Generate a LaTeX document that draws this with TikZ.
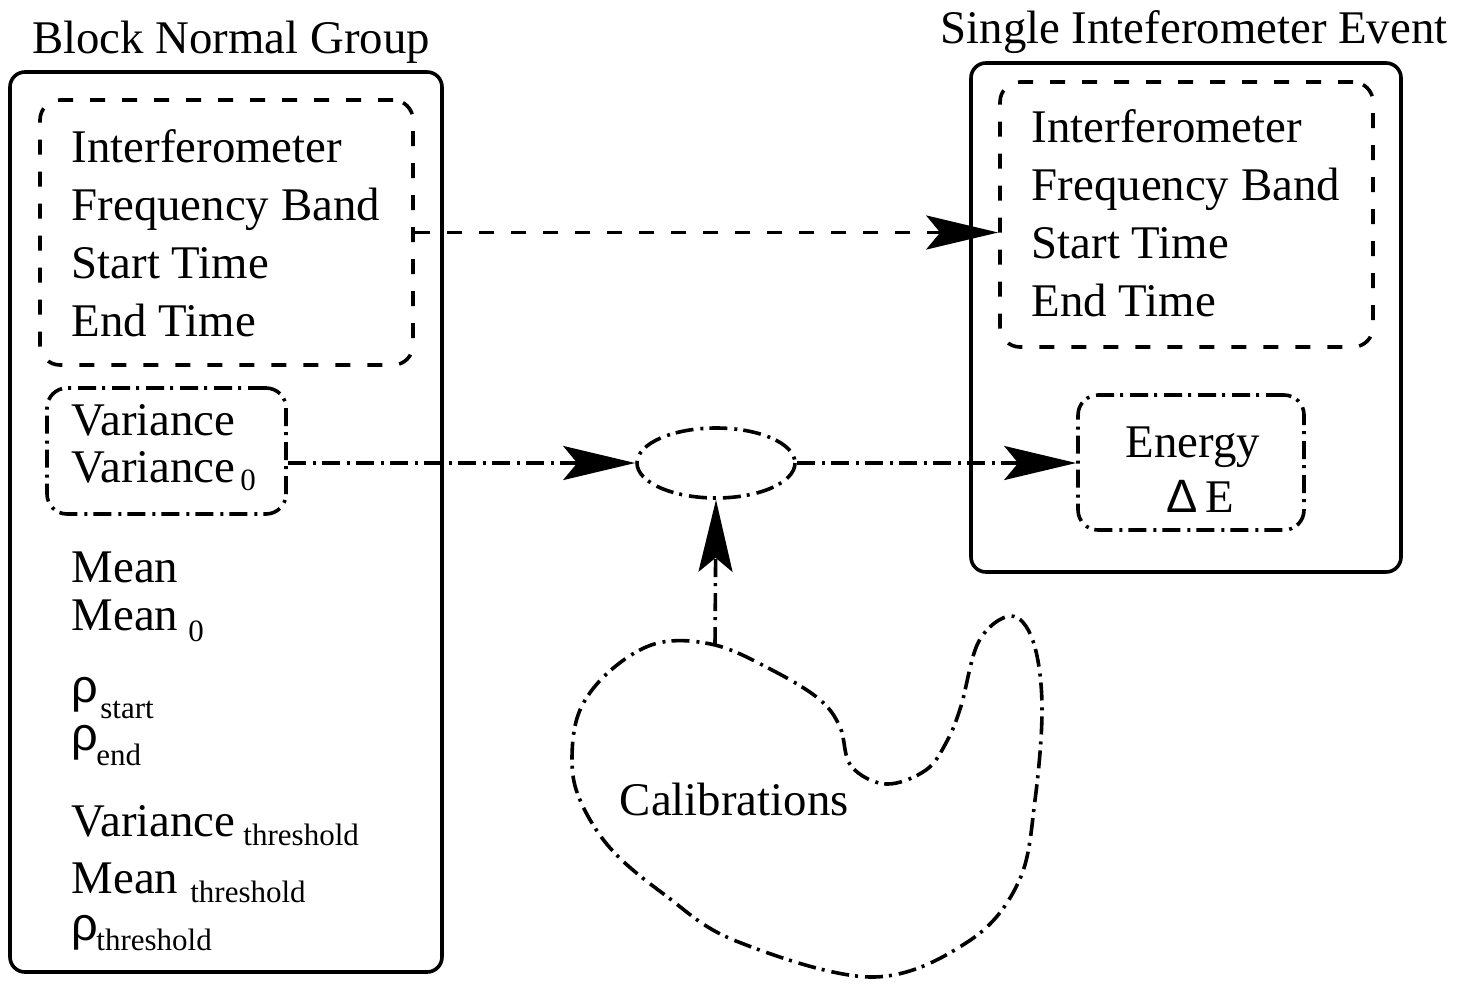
\documentclass[tikz,border=0pt]{standalone}
\usepackage{fontspec}
\setmainfont{Liberation Serif}
\newfontfamily\greekfont{Liberation Sans}
\usetikzlibrary{arrows.meta}
\newcommand{\subsize}{\fontsize{15.5}{16}\selectfont}
% \lowsub[drop]{gap}{text}
\newcommand{\lowsub}[3][4pt]{\hspace{#2}\raisebox{-#1}{\subsize #3}}
\newcommand{\rh}{{\greekfont ρ}}
\tikzset{
  txt/.style={inner sep=0pt,anchor=base west,font=\fontsize{23.4}{28}\selectfont},
  grp/.style={draw,rectangle,inner sep=0pt,rounded corners=7.5pt},
  idbox/.style={grp,rounded corners=10pt,dash pattern=on 7.5pt off 8.5pt},
  dotbox/.style={grp,rounded corners=10pt,dash pattern=on 9pt off 3.5pt on 1.5pt off 3pt},
  dashdot/.style={dash pattern=on 9pt off 3.5pt on 1.5pt off 3pt},
}
\begin{document}
\begin{tikzpicture}[x=0.5pt,y=-0.5pt,>={Stealth[length=36pt,width=17pt,inset=7pt]},line join=bevel,line width=1.8pt]
  \useasboundingbox (0,0) rectangle (1459,985);
%%
  % Node: blockgrp
  \node[grp,minimum width=216pt,minimum height=450pt] (blockgrp) at (226,522) {};
  \node[txt,anchor=base] (blocktitle) at (231,53) {Block Normal Group};
  % Node: blockid
  \node[idbox,minimum width=186.5pt,minimum height=132.5pt] (blockid) at (226.5,232.5) {};
  \node[txt] (bifo) at (70,162) {Interferometer};
  \node[txt] (bband) at (70,220) {Frequency Band};
  \node[txt] (bstart) at (70,278) {Start Time};
  \node[txt] (bend) at (70,336) {End Time};
  % Node: varbox
  \node[dotbox,minimum width=119.5pt,minimum height=63pt] (varbox) at (166.5,451) {};
  \node[txt] (var) at (70,435) {Variance};
  \node[txt] (varzero) at (70,482) {Variance\lowsub[4pt]{2.5pt}{0}};
  % Node: stats
  \node[txt] (mean) at (70,582) {Mean};
  \node[txt] (meanzero) at (70,630) {Mean\lowsub[5.5pt]{5pt}{0}};
  \node[txt] (rhostart) at (70,702) {\rh\lowsub[8pt]{1pt}{start}};
  \node[txt] (rhoend) at (70,750) {\rh\lowsub[7.5pt]{-1pt}{end}};
  \node[txt] (varthr) at (70,836) {Variance\lowsub[4.5pt]{4pt}{threshold}};
  \node[txt] (meanthr) at (70,893) {Mean\lowsub[4.5pt]{6pt}{threshold}};
  \node[txt] (rhothr) at (70,940) {\rh\lowsub[5pt]{-1pt}{threshold}};
  % Node: eventgrp
  \node[grp,minimum width=215pt,minimum height=254.5pt] (eventgrp) at (1186,317.5) {};
  \node[txt,anchor=base] (eventtitle) at (1194,43) {Single Inteferometer Event};
  % Node: eventid
  \node[idbox,minimum width=186.5pt,minimum height=132.5pt] (eventid) at (1186.5,214.5) {};
  \node[txt] (eifo) at (1030,142) {Interferometer};
  \node[txt] (eband) at (1030,200) {Frequency Band};
  \node[txt] (estart) at (1030,258) {Start Time};
  \node[txt] (eend) at (1030,316) {End Time};
  % Node: energy
  \node[dotbox,minimum width=113pt,minimum height=67.5pt] (energy) at (1191,462.5) {};
  \node[txt,anchor=base] (entxt) at (1193,457) {Energy};
  \node[txt,anchor=base] (dentxt) at (1200,512) {{\greekfont Δ}\,E};
  % Node: combine
  \draw[dashdot] (716,463) ellipse (79 and 35);
  \node[inner sep=0pt,minimum width=79pt,minimum height=35pt] (combine) at (716,463) {};
  % Node: calib
  \draw[dashdot] plot[smooth cycle,tension=0.6] coordinates {
    (715,645) (772,670) (819,699) (840,727) (851,766) (886,784) (926,770)
    (947,741) (961,706) (979,641) (1011,616) (1033,641) (1042,706)
    (1035,800) (1019,881) (969,941) (872,977) (736,941) (665,895)
    (611,849) (580,800) (572,759) (580,710) (611,670) (658,643)};
  \coordinate (calsrc) at (715,645);
  \node[txt] (calib) at (618,815) {Calibrations};
%%
  % Edge: blockid -> eventid
  \draw[->,dash pattern=on 7.5pt off 8.5pt] (blockid.east) -- (blockid.east -| eventid.west);
  % Edge: varbox -> combine
  \draw[->,dashdot] (varbox.east |- combine.west) -- (combine.west);
  % Edge: combine -> energy
  \draw[->,dashdot] (combine.east) -- (energy.west |- combine.east);
  % Edge: calib -> combine
  \draw[->,dashdot] (calsrc) -- (combine.south);
%
\end{tikzpicture}
\end{document}
